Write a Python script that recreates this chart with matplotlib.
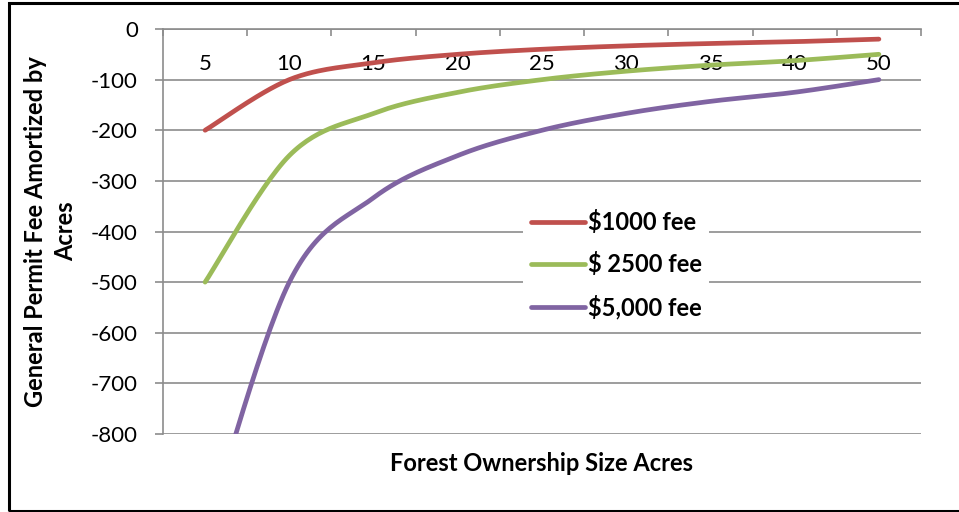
import matplotlib
matplotlib.use("Agg")
import matplotlib.pyplot as plt
import numpy as np
from matplotlib.patches import Rectangle

# Data (category axis: 45 is not in the sheet)
acres = ["5", "10", "15", "20", "25", "30", "35", "40", "50"]
fee_1000 = [-200, -100, -66.7, -50, -40, -33.3, -28.6, -25, -20]
fee_2500 = [-500, -250, -166.7, -125, -100, -83.3, -71.4, -62.5, -50]
fee_5000 = [-1000, -500, -333.3, -250, -200, -166.7, -142.9, -125, -100]

series = [("$1000 fee", fee_1000, "#C0504D"),
          ("$ 2500 fee", fee_2500, "#9BBB59"),
          ("$5,000 fee", fee_5000, "#8064A2")]


def smooth(xs, ys, n=30):
    # Excel style smoothing (uniform Catmull-Rom / Bezier)
    p = np.column_stack([xs, ys]).astype(float)
    p = np.vstack([p[0], p, p[-1]])
    out = []
    t = np.linspace(0, 1, n)[:, None]
    for i in range(1, len(p) - 2):
        p0, p1, p2, p3 = p[i - 1], p[i], p[i + 1], p[i + 2]
        c1 = p1 + (p2 - p0) / 6
        c2 = p2 - (p3 - p1) / 6
        seg = ((1 - t) ** 3) * p1 + 3 * ((1 - t) ** 2) * t * c1 \
            + 3 * (1 - t) * t ** 2 * c2 + t ** 3 * p2
        out.append(seg if i == 1 else seg[1:])
    out = np.vstack(out)
    return out[:, 0], out[:, 1]


plt.rcParams['font.family'] = ['Lato', 'DejaVu Sans']
plt.rcParams['axes.unicode_minus'] = False

fig = plt.figure(figsize=(9.59, 5.12), dpi=100)
ax = fig.add_axes([163 / 959, 1 - 434 / 512, (921 - 163) / 959, (434 - 29) / 512])

xs = np.arange(len(acres))
for name, vals, col in series:
    sx, sy = smooth(xs, vals)
    ax.plot(sx, sy, color=col, lw=3.4, label=name, solid_capstyle='round')

ax.set_xlim(-0.5, len(acres) - 0.5)
ax.set_ylim(-800, 0)
ax.set_yticks(np.arange(-800, 1, 100))
ax.yaxis.grid(True, color="#8C8C8C", lw=1.2)
ax.set_axisbelow(True)

ax.spines['top'].set_visible(False)
ax.spines['right'].set_visible(False)
ax.spines['bottom'].set_position(('data', 0))
for s in ['left', 'bottom']:
    ax.spines[s].set_color("#8C8C8C")
    ax.spines[s].set_linewidth(1.2)

ax.set_xticks(xs)
ax.set_xticklabels(acres)
ax.set_xticks(np.arange(-0.5, len(acres)), minor=True)
ax.tick_params(axis='x', which='major', length=0, pad=18, labelsize=16)
ax.tick_params(axis='x', which='minor', length=5, direction='out',
               color="#8C8C8C", width=1.2)
ax.tick_params(axis='y', length=6, color="#8C8C8C", width=1.2, pad=12,
               labelsize=16)

ax.set_xlabel("Forest Ownership Size Acres", fontsize=17, fontweight='bold')
ax.xaxis.set_label_coords(0.5, -0.045)
ax.set_ylabel("General Permit Fee Amortized by\nAcres", fontsize=17,
              fontweight='bold', linespacing=1.4)
ax.yaxis.set_label_coords(-0.113, 0.5)

leg = ax.legend(loc='upper left', bbox_to_anchor=(0.46, 0.6), frameon=True,
                fancybox=False, edgecolor='none', framealpha=1,
                prop={'weight': 'bold', 'size': 17}, handlelength=2.3,
                handletextpad=0.15, labelspacing=0.78, borderpad=0.3)

fig.patches.append(Rectangle((9 / 959, 1 / 512), 1.0, 508 / 512,
                             transform=fig.transFigure, fill=False,
                             edgecolor='black', lw=2.2))

fig.savefig("out.png", dpi=100)
